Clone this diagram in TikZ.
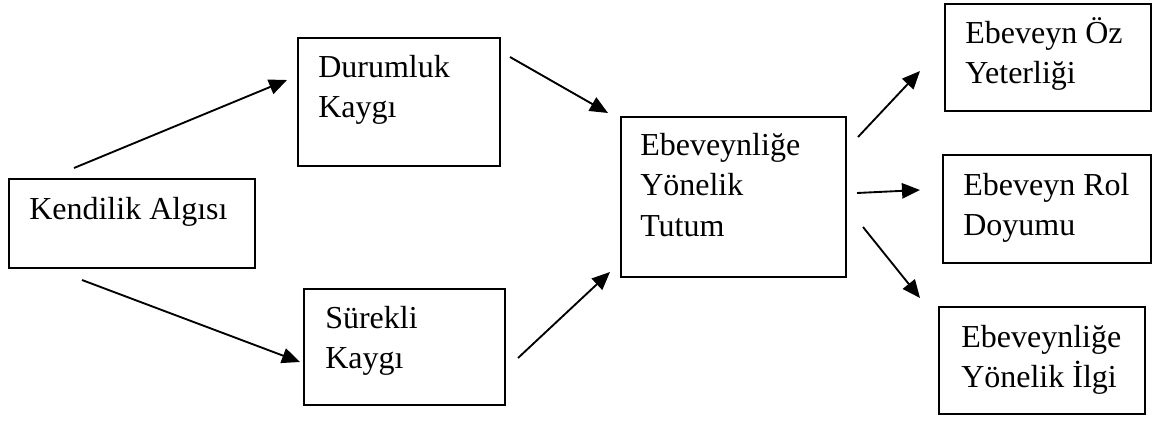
\documentclass[tikz,border=0pt]{standalone}
\usepackage{fontspec}
\setmainfont{Liberation Serif}
\usetikzlibrary{arrows.meta}
\tikzset{
  box/.style={draw, line width=1.4pt, inner sep=0pt},
  txt/.style={anchor=base west, inner sep=0pt, font=\fontsize{24}{30.5}\selectfont},
  arr/.style={line width=1.4pt, -{Triangle[length=13.5pt,width=11.5pt]}}
}
\newcommand{\lines}[1]{\begin{tabular}[t]{@{}l@{}}#1\end{tabular}}
\begin{document}
\begin{tikzpicture}[x=0.75pt,y=-0.75pt]
\useasboundingbox (0,0) rectangle (1155,425);
% boxes
\node[box, minimum width=246*0.75pt, minimum height=89*0.75pt, anchor=north west] (kend) at (8,178) {};
\node[box, minimum width=202*0.75pt, minimum height=128*0.75pt, anchor=north west] (dur) at (297,37) {};
\node[box, minimum width=201*0.75pt, minimum height=116*0.75pt, anchor=north west] (sur) at (303,288) {};
\node[box, minimum width=225*0.75pt, minimum height=160*0.75pt, anchor=north west] (tut) at (620,116) {};
\node[box, minimum width=206*0.75pt, minimum height=107*0.75pt, anchor=north west] (oz) at (944,3) {};
\node[box, minimum width=208*0.75pt, minimum height=108*0.75pt, anchor=north west] (rol) at (942,154) {};
\node[box, minimum width=206*0.75pt, minimum height=107*0.75pt, anchor=north west] (ilgi) at (938,306) {};
% texts
\node[txt] (tkend) at (29,219) {Kendilik Algısı};
\node[txt] (tdur) at (318,77) {\lines{Durumluk\\Kaygı}};
\node[txt] (tsur) at (325,328) {\lines{Sürekli\\Kaygı}};
\node[txt] (ttut) at (640,155) {\lines{Ebeveynliğe\\Yönelik\\Tutum}};
\node[txt] (toz) at (965,43) {\lines{Ebeveyn Öz\\Yeterliği}};
\node[txt] (trol) at (963,195) {\lines{Ebeveyn Rol\\Doyumu}};
\node[txt] (tilgi) at (961,347) {\lines{Ebeveynliğe\\Yönelik İlgi}};
% arrow ends
\coordinate (a1s) at (74,168);  \coordinate (a1e) at (287,80);
\coordinate (a2s) at (82,280);  \coordinate (a2e) at (300,362);
\coordinate (a3s) at (510,57);  \coordinate (a3e) at (608,113);
\coordinate (a4s) at (518,358); \coordinate (a4e) at (610,272);
\coordinate (a5s) at (858,137); \coordinate (a5e) at (920,71);
\coordinate (a6s) at (857,193); \coordinate (a6e) at (920,190);
\coordinate (a7s) at (863,227); \coordinate (a7e) at (920,298);
\draw[arr] (a1s) -- (a1e);
\draw[arr] (a2s) -- (a2e);
\draw[arr] (a3s) -- (a3e);
\draw[arr] (a4s) -- (a4e);
\draw[arr] (a5s) -- (a5e);
\draw[arr] (a6s) -- (a6e);
\draw[arr] (a7s) -- (a7e);
\end{tikzpicture}
\end{document}
